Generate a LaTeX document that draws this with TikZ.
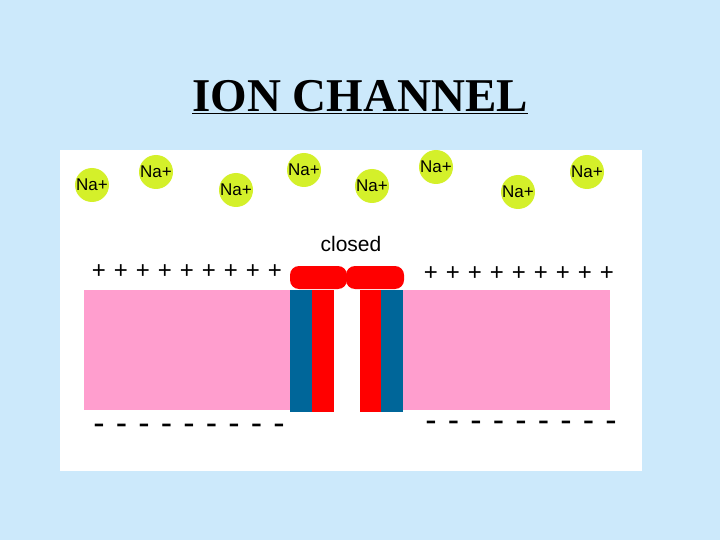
\documentclass[tikz,border=0pt]{standalone}
\usepackage{fontspec}
\setmainfont{Liberation Sans}
\newfontfamily\titlefont{Liberation Serif}
\begin{document}
\begin{tikzpicture}[x=1pt,y=-1pt,
 ion/.style={circle,fill=ionc,minimum size=34pt,inner sep=0pt,font=\fontsize{17}{17}\selectfont},
 sign/.style={font=\fontsize{24}{24}\selectfont,inner sep=0pt},
 msign/.style={font=\fontsize{34}{34}\selectfont,inner sep=0pt}]
\definecolor{bg}{HTML}{CCE9FB}
\definecolor{ionc}{HTML}{D4F02A}
\definecolor{memb}{HTML}{FF9ECE}
\definecolor{chb}{HTML}{006699}
\useasboundingbox (0,0) rectangle (720,540);
\fill[bg] (0,0) rectangle (720,540);
\node (title) at (360,97) {\titlefont\bfseries\fontsize{47}{47}\selectfont\underline{ION CHANNEL}};
\fill[white] (60,150) rectangle (642,471);
\foreach \n/\x/\y in {a/92/185,b/156/172,c/236/190,d/304/170,e/372/186,f/436/167,g/518/192,h/587/172}
  \node[ion] (na\n) at (\x,\y) {Na+};
\node (closed) at (351,244) {\fontsize{21}{21}\selectfont closed};
\fill[memb] (84,290) rectangle (290,410);
\fill[memb] (403,290) rectangle (610,410);
\fill[chb] (290,290) rectangle (312,412);
\fill[chb] (380,290) rectangle (403,412);
\fill[red] (312,290) rectangle (334,412);
\fill[red] (360,290) rectangle (381,412);
\fill[red,rounded corners=9pt] (290,266) rectangle (347,289);
\fill[red,rounded corners=9pt] (346,266) rectangle (404,289);
\foreach \i in {0,...,8} {
  \node[sign] (pl\i) at (99+22*\i,272) {+};
  \node[sign] (pr\i) at (431+22*\i,274) {+};
  \node[msign] (ml\i) at (99+22.5*\i,429) {-};
  \node[msign] (mr\i) at (431+22.5*\i,426) {-};
}
\end{tikzpicture}
\end{document}
